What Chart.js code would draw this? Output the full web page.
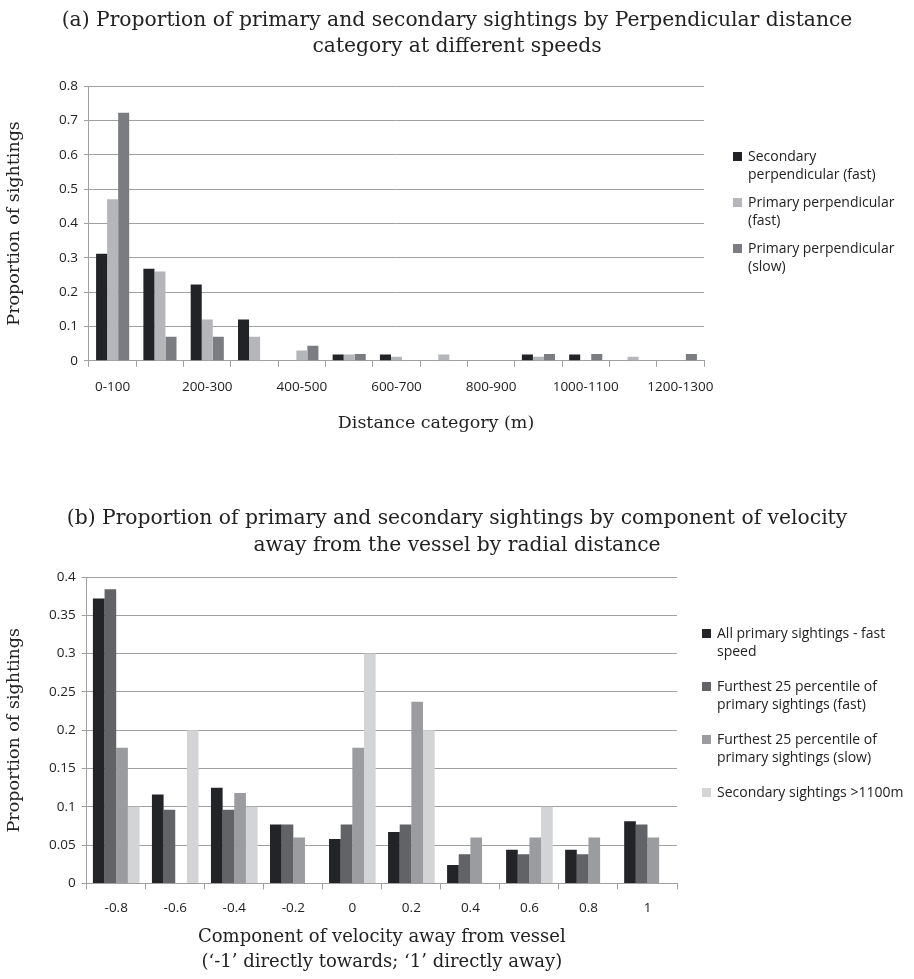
<!DOCTYPE html>
<html>
<head>
<meta charset="utf-8">
<script src="https://cdn.jsdelivr.net/npm/chart.js@4.4.1/dist/chart.umd.min.js"></script>
<style>
  html, body { margin: 0; padding: 0; background: #fff; }
  .box { position: absolute; left: 0; width: 914px; }
  #boxA { top: 0; height: 480px; }
  #boxB { top: 480px; height: 499px; }
</style>
</head>
<body>
<div class="box" id="boxA"><canvas id="chartA"></canvas></div>
<div class="box" id="boxB"><canvas id="chartB"></canvas></div>
<script>
// ---- data (a) ----
const distCategories = ['0-100', '100-200', '200-300', '300-400', '400-500', '500-600', '600-700',
  '700-800', '800-900', '900-1000', '1000-1100', '1100-1200', '1200-1300'];
const secondaryFast = [0.312, 0.268, 0.222, 0.12, 0, 0.018, 0.018, 0, 0, 0.018, 0.018, 0, 0];
const primaryFast = [0.47, 0.26, 0.12, 0.07, 0.03, 0.018, 0.012, 0.018, 0, 0.012, 0, 0.012, 0];
const primarySlow = [0.722, 0.07, 0.07, 0, 0.044, 0.02, 0, 0, 0, 0.02, 0.02, 0, 0.02];
const legendA = [['Secondary', 'perpendicular (fast)'], ['Primary perpendicular', '(fast)'], ['Primary perpendicular', '(slow)']];
const titleA = ['(a) Proportion of primary and secondary sightings by Perpendicular distance', 'category at different speeds'];
const xTitleA = 'Distance category (m)';

// ---- data (b) ----
const velCategories = ['-0.8', '-0.6', '-0.4', '-0.2', '0', '0.2', '0.4', '0.6', '0.8', '1'];
const allPrimaryFast = [0.372, 0.116, 0.125, 0.077, 0.058, 0.067, 0.024, 0.044, 0.044, 0.081];
const furthestFast = [0.384, 0.096, 0.096, 0.077, 0.077, 0.077, 0.038, 0.038, 0.038, 0.077];
const furthestSlow = [0.177, 0, 0.118, 0.06, 0.177, 0.237, 0.06, 0.06, 0.06, 0.06];
const secondaryFar = [0.1, 0.2, 0.1, 0, 0.3, 0.2, 0, 0.1, 0, 0];
const legendB = [['All primary sightings - fast', 'speed'], ['Furthest 25 percentile of', 'primary sightings (fast)'],
  ['Furthest 25 percentile of', 'primary sightings (slow)'], ['Secondary sightings >1100m']];
const titleB = ['(b) Proportion of primary and secondary sightings by component of velocity', 'away from the vessel by radial distance'];
const xTitleB = ['Component of velocity away from vessel', '(\u2018-1\u2019 directly towards; \u20181\u2019 directly away)'];

const serif = 'DejaVu Serif';
const sans = 'Open Sans';
const gridColor = '#a0a0a0';
const textColor = '#222';

// page-centred title, drawn on the canvas
const pageTitle = {
  id: 'pageTitle',
  afterDraw(chart, args, opts) {
    const ctx = chart.ctx;
    ctx.save();
    ctx.font = '20.3px ' + serif;
    ctx.fillStyle = textColor;
    ctx.textAlign = 'center';
    ctx.textBaseline = 'alphabetic';
    opts.lines.forEach((t, i) => ctx.fillText(t, chart.width / 2, opts.y + i * opts.lineH));
    ctx.restore();
  }
};

// x title of chart (a) sits right of the plot centre in the original
const shiftedXTitle = {
  id: 'shiftedXTitle',
  afterDraw(chart, args, opts) {
    if (!opts.text) return;
    const ctx = chart.ctx;
    const sc = chart.scales.x;
    ctx.save();
    ctx.font = '17.5px ' + serif;
    ctx.fillStyle = textColor;
    ctx.textAlign = 'center';
    ctx.textBaseline = 'middle';
    ctx.fillText(opts.text, opts.x, sc.bottom - 4 - 10.5);
    ctx.restore();
  }
};

// legend drawn at the right of the plot area
const sideLegend = {
  id: 'sideLegend',
  afterDraw(chart, args, opts) {
    const ctx = chart.ctx;
    const x = chart.chartArea.right + opts.dx;
    let y = opts.top;
    ctx.save();
    ctx.font = '14px ' + sans;
    ctx.textBaseline = 'middle';
    chart.data.datasets.forEach((ds, i) => {
      ctx.fillStyle = ds.backgroundColor;
      ctx.fillRect(x, y - 5, 9, 9);
      ctx.fillStyle = textColor;
      opts.lines[i].forEach((t, j) => ctx.fillText(t, x + 15, y + j * opts.lineH));
      y += opts.lines[i].length * opts.lineH + opts.gap;
    });
    ctx.restore();
  }
};

function scalesFor(ymax, step, xTitle, skipOdd, lab, yTitlePad) {
  return {
    x: {
      grid: { drawOnChartArea: false, drawTicks: true, tickLength: 6, color: gridColor, offset: true },
      border: { color: gridColor },
      ticks: {
        color: textColor, font: { family: sans, size: 13.5 }, maxRotation: 0, autoSkip: false, padding: lab.tickPad,
        callback: function (v, i) { return skipOdd && i % 2 ? '' : this.getLabelForValue(v); }
      },
      title: {
        display: true, text: xTitle, color: lab.titleColor || textColor,
        font: { family: serif, size: lab.titleSize, lineHeight: lab.lh }, padding: { top: lab.titleTop, bottom: 4 }
      }
    },
    y: {
      min: 0, max: ymax,
      grid: { color: gridColor, tickLength: 5 },
      border: { color: gridColor },
      ticks: {
        stepSize: step, color: textColor, font: { family: sans, size: 13.5 }, padding: 6,
        callback: v => String(+v.toFixed(2))
      },
      title: {
        display: true, text: 'Proportion of sightings', color: textColor,
        font: { family: serif, size: 17.5, lineHeight: 1.2 }, padding: { top: 4, bottom: yTitlePad }
      }
    }
  };
}

new Chart(document.getElementById('chartA'), {
  type: 'bar',
  data: {
    labels: distCategories,
    datasets: [
      { label: 'Secondary perpendicular (fast)', data: secondaryFast, backgroundColor: '#222326' },
      { label: 'Primary perpendicular (fast)', data: primaryFast, backgroundColor: '#b4b6b9' },
      { label: 'Primary perpendicular (slow)', data: primarySlow, backgroundColor: '#7b7c81' }
    ]
  },
  options: {
    responsive: true, maintainAspectRatio: false, animation: false,
    datasets: { bar: { categoryPercentage: 0.7, barPercentage: 1 } },
    layout: { padding: { left: 0, top: 86, right: 210, bottom: 42 } },
    plugins: {
      legend: { display: false },
      tooltip: { enabled: false },
      title: { display: false },
      pageTitle: { lines: titleA, y: 26, lineH: 26 },
      shiftedXTitle: { text: xTitleA, x: 436 },
      sideLegend: { dx: 29, top: 157, lineH: 18.5, gap: 9, lines: legendA }
    },
    scales: scalesFor(0.8, 0.1, xTitleA, true,
      { tickPad: 12, titleTop: 6, lh: 1.2, titleSize: 17.5, titleColor: 'rgba(0,0,0,0)' }, 28)
  },
  plugins: [pageTitle, shiftedXTitle, sideLegend]
});

new Chart(document.getElementById('chartB'), {
  type: 'bar',
  data: {
    labels: velCategories,
    datasets: [
      { label: 'All primary sightings - fast speed', data: allPrimaryFast, backgroundColor: '#232427' },
      { label: 'Furthest 25 percentile of primary sightings (fast)', data: furthestFast, backgroundColor: '#626367' },
      { label: 'Furthest 25 percentile of primary sightings (slow)', data: furthestSlow, backgroundColor: '#9a9ca0' },
      { label: 'Secondary sightings >1100m', data: secondaryFar, backgroundColor: '#d3d4d6' }
    ]
  },
  options: {
    responsive: true, maintainAspectRatio: false, animation: false,
    datasets: { bar: { categoryPercentage: 0.79, barPercentage: 1 } },
    layout: { padding: { left: 0, top: 97, right: 237, bottom: 0 } },
    plugins: {
      legend: { display: false },
      tooltip: { enabled: false },
      title: { display: false },
      pageTitle: { lines: titleB, y: 44, lineH: 27 },
      sideLegend: { dx: 25, top: 154, lineH: 18.5, gap: 16, lines: legendB }
    },
    scales: scalesFor(0.4, 0.05, xTitleB, false, { tickPad: 11, titleTop: -3, lh: 1.4, titleSize: 18 }, 18)
  },
  plugins: [pageTitle, sideLegend]
});
</script>
</body>
</html>
